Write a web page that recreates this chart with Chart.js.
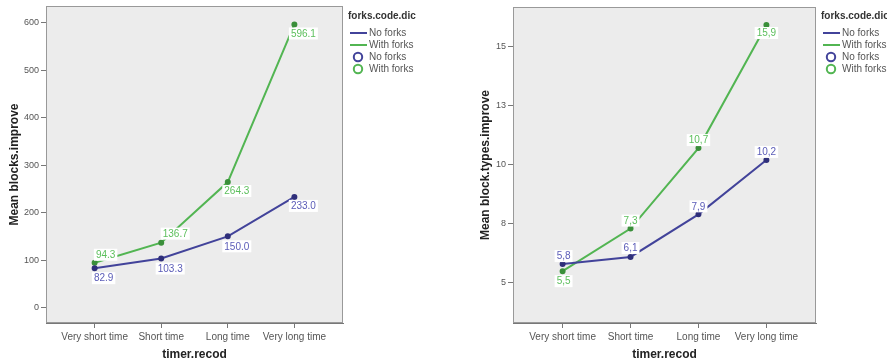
<!DOCTYPE html>
<html>
<head>
<meta charset="utf-8">
<script src="https://cdn.jsdelivr.net/npm/chart.js@4.4.1/dist/chart.umd.min.js"></script>
<style>
    html, body { margin: 0; padding: 0; background: #fff; }
    #wrap1 { position: absolute; left: 0; top: 0; width: 444px; height: 363px; }
    #wrap2 { position: absolute; left: 444px; top: 0; width: 443px; height: 363px; }
</style>
</head>
<body>
<div id="wrap1"><canvas id="chart1"></canvas></div>
<div id="wrap2"><canvas id="chart2"></canvas></div>
<script>
var categories = ['Very short time', 'Short time', 'Long time', 'Very long time'];
var seriesNames = ['No forks', 'With forks'];

// chart1 - Mean blocks.improve
var blocksNoForks = [82.9, 103.3, 150.0, 233.0];
var blocksWithForks = [94.3, 136.7, 264.3, 596.1];
var blocksTicks = [0, 100, 200, 300, 400, 500, 600];

// chart2 - Mean block.types.improve
var typesNoForks = [5.8, 6.1, 7.9, 10.2];
var typesWithForks = [5.5, 7.3, 10.7, 15.9];
var typesTicks = [5, 7.5, 10, 12.5, 15];

var blueLine = '#42439a';
var greenLine = '#52b552';
var blueText = '#5b5cb8';
var greenText = '#5cbf5c';
var fontFamily = "'Liberation Sans', Arial, sans-serif";

// label offsets (dx, dy) from each point
var blocksShift = [
    [[9, 10], [9, 10], [9, 10], [9, 9]],
    [[11, -8], [14, -9], [9, 9], [9, 9]]
];
var typesShift = [
    [[1, -8], [0, -9], [0, -8], [0, -8]],
    [[1, 10], [0, -8], [0, -8], [0, 8]]
];

function toPoints(values) {
    return values.map(function(v, i) { return { x: i, y: v }; });
}

var plotBox = {
    id: 'plotBox',
    beforeDraw: function(chart) {
        var a = chart.chartArea, ctx = chart.ctx;
        ctx.save();
        ctx.fillStyle = '#ececec';
        ctx.fillRect(a.left, a.top, a.right - a.left, a.bottom - a.top);
        ctx.restore();
    },
    afterDraw: function(chart) {
        var a = chart.chartArea, ctx = chart.ctx;
        ctx.save();
        ctx.strokeStyle = '#999';
        ctx.lineWidth = 1;
        ctx.strokeRect(a.left + 0.5, a.top + 0.5, a.right - a.left - 1, a.bottom - a.top - 1);
        ctx.restore();
    }
};

var pointLabels = {
    id: 'pointLabels',
    afterDatasetsDraw: function(chart, args, opts) {
        var ctx = chart.ctx;
        ctx.save();
        ctx.font = '10px ' + fontFamily;
        ctx.textAlign = 'center';
        ctx.textBaseline = 'middle';
        chart.data.datasets.forEach(function(ds, di) {
            var meta = chart.getDatasetMeta(di);
            meta.data.forEach(function(pt, i) {
                var txt = ds.data[i].y.toFixed(1);
                if (opts.comma) txt = txt.replace('.', ',');
                var x = pt.x + opts.shift[di][i][0];
                var y = pt.y + opts.shift[di][i][1];
                var w = ctx.measureText(txt).width + 4;
                ctx.fillStyle = '#fff';
                ctx.fillRect(x - w / 2, y - 6, w, 12);
                ctx.fillStyle = di === 0 ? blueText : greenText;
                ctx.fillText(txt, x, y + 0.5);
            });
        });
        ctx.restore();
    }
};

var sideLegend = {
    id: 'sideLegend',
    afterDraw: function(chart, args, opts) {
        var ctx = chart.ctx, x = opts.x;
        var colors = [blueLine, greenLine];
        ctx.save();
        ctx.textBaseline = 'middle';
        ctx.textAlign = 'left';
        ctx.fillStyle = '#333';
        ctx.font = 'bold 10px ' + fontFamily;
        ctx.fillText('forks.code.dic', x, 16);
        ctx.font = '10px ' + fontFamily;
        seriesNames.forEach(function(name, i) {
            var y = 33 + i * 12;
            ctx.strokeStyle = colors[i];
            ctx.lineWidth = 2;
            ctx.beginPath();
            ctx.moveTo(x + 2, y);
            ctx.lineTo(x + 19, y);
            ctx.stroke();
            ctx.fillStyle = '#555';
            ctx.fillText(name, x + 21, y);
        });
        seriesNames.forEach(function(name, i) {
            var y = 57 + i * 12;
            ctx.strokeStyle = colors[i];
            ctx.lineWidth = 2;
            ctx.beginPath();
            ctx.arc(x + 10, y, 4.2, 0, Math.PI * 2);
            ctx.stroke();
            ctx.fillStyle = '#555';
            ctx.fillText(name, x + 21, y);
        });
        ctx.restore();
    }
};

function makeChart(canvasId, noForks, withForks, yMin, yMax, yTicks, yTitle, yWidth, yTitlePad, pad, shift, comma, legendX, tickFmt) {
    var ctx = document.getElementById(canvasId).getContext('2d');
    return new Chart(ctx, {
        type: 'line',
        data: {
            datasets: [{
                label: seriesNames[0],
                data: toPoints(noForks),
                borderColor: blueLine,
                backgroundColor: '#2f2f7a',
                pointBorderColor: '#2f2f7a',
                borderWidth: 2,
                pointRadius: 2,
                tension: 0
            },
            {
                label: seriesNames[1],
                data: toPoints(withForks),
                borderColor: greenLine,
                backgroundColor: '#3a8f3a',
                pointBorderColor: '#3a8f3a',
                borderWidth: 2,
                pointRadius: 2,
                tension: 0
            }]
        },
        options: {
            responsive: true,
            maintainAspectRatio: false,
            animation: false,
            layout: { padding: pad },
            plugins: {
                legend: { display: false },
                tooltip: { enabled: false },
                pointLabels: { shift: shift, comma: comma },
                sideLegend: { x: legendX }
            },
            scales: {
                x: {
                    type: 'linear',
                    min: -0.73,
                    max: 3.73,
                    afterBuildTicks: function(axis) {
                        axis.ticks = categories.map(function(c, i) { return { value: i }; });
                    },
                    afterFit: function(s) {
                        s.height = 40;
                        s.paddingLeft = 0;
                        s.paddingRight = 0;
                    },
                    ticks: {
                        autoSkip: false,
                        maxRotation: 0,
                        padding: 3,
                        color: '#555',
                        font: { family: fontFamily, size: 10 },
                        callback: function(v) { return categories[v]; }
                    },
                    grid: { drawOnChartArea: false, tickLength: 5, color: '#777' },
                    border: { display: true, color: '#777' },
                    title: {
                        display: true,
                        text: 'timer.recod',
                        color: '#222',
                        font: { family: fontFamily, size: 12, weight: 'bold' },
                        padding: { top: 0, bottom: 1 }
                    }
                },
                y: {
                    type: 'linear',
                    min: yMin,
                    max: yMax,
                    afterBuildTicks: function(axis) {
                        axis.ticks = yTicks.map(function(v) { return { value: v }; });
                    },
                    afterFit: function(s) {
                        s.width = yWidth;
                        s.paddingTop = 0;
                        s.paddingBottom = 0;
                    },
                    ticks: {
                        padding: 2,
                        color: '#555',
                        font: { family: fontFamily, size: 9 },
                        callback: tickFmt
                    },
                    grid: { drawOnChartArea: false, tickLength: 5, color: '#777' },
                    border: { display: true, color: '#777' },
                    title: {
                        display: true,
                        text: yTitle,
                        color: '#222',
                        font: { family: fontFamily, size: 12, weight: 'bold' },
                        padding: { top: yTitlePad, bottom: 0 }
                    }
                }
            }
        },
        plugins: [plotBox, pointLabels, sideLegend]
    });
}

// chart1
makeChart('chart1', blocksNoForks, blocksWithForks, -32.5, 635, blocksTicks,
    'Mean blocks.improve', 46, 7, { left: 0, top: 6, right: 101, bottom: 0 },
    blocksShift, false, 348, function(v) { return v; });

// chart2
makeChart('chart2', typesNoForks, typesWithForks, 3.31, 16.66, typesTicks,
    'Mean block.types.improve', 69, 34, { left: 0, top: 7, right: 71, bottom: 0 },
    typesShift, true, 377, function(v) { return Math.round(v); });
</script>
</body>
</html>
